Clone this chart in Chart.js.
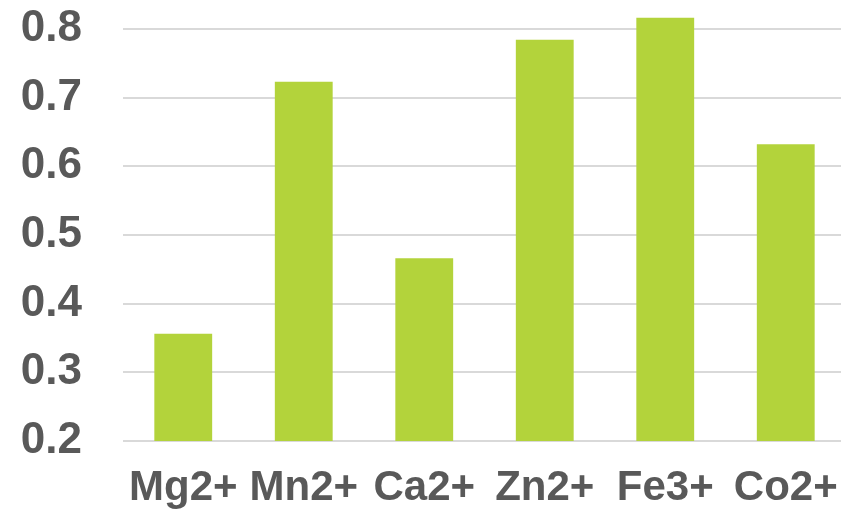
<!DOCTYPE html>
<html>
<head>
<meta charset="utf-8">
<script src="https://cdn.jsdelivr.net/npm/chart.js@4"></script>
<style>
    html, body { margin: 0; padding: 0; background: #fff; overflow: hidden; }
    #wrap { width: 846px; height: 512px; }
</style>
</head>
<body>
<div id="wrap"><canvas id="ionChart"></canvas></div>
<script>
// data
const ions = ['Mg2+', 'Mn2+', 'Ca2+', 'Zn2+', 'Fe3+', 'Co2+'];
const values = [0.356, 0.723, 0.466, 0.784, 0.816, 0.632];
const yTicks = [0.2, 0.3, 0.4, 0.5, 0.6, 0.7, 0.8];

const textColor = '#595959';
const fontFamily = '"Liberation Sans", Arial, sans-serif';

const ctx = document.getElementById('ionChart').getContext('2d');

new Chart(ctx, {
    type: 'bar',
    data: {
        labels: ions,
        datasets: [{
            data: values,
            backgroundColor: '#B3D33B',
            borderWidth: 0,
            barPercentage: 0.48,
            categoryPercentage: 1.0
        }]
    },
    options: {
        responsive: true,
        maintainAspectRatio: false,
        animation: false,
        layout: { padding: 0 },
        plugins: {
            legend: { display: false },
            tooltip: { enabled: false }
        },
        scales: {
            x: {
                grid: { display: false, drawTicks: false },
                border: { display: false },
                ticks: {
                    color: textColor,
                    padding: 22,
                    maxRotation: 0,
                    autoSkip: false,
                    font: { family: fontFamily, size: 42, weight: 'bold' }
                },
                afterFit: scale => {
                    scale.height = 71;
                    scale.paddingLeft = 0;
                    scale.paddingRight = 0;
                }
            },
            y: {
                min: 0.2,
                max: 0.842,
                afterBuildTicks: scale => {
                    scale.ticks = yTicks.map(v => ({ value: v }));
                },
                grid: { color: '#D9D9D9', lineWidth: 2, drawTicks: false },
                border: { display: false },
                ticks: {
                    color: textColor,
                    padding: 41,
                    callback: v => v.toFixed(1),
                    font: { family: fontFamily, size: 44, weight: 'bold' }
                },
                afterFit: scale => {
                    scale.width = 123;
                    scale.paddingTop = 0;
                    scale.paddingBottom = 0;
                }
            }
        }
    }
});
</script>
</body>
</html>
